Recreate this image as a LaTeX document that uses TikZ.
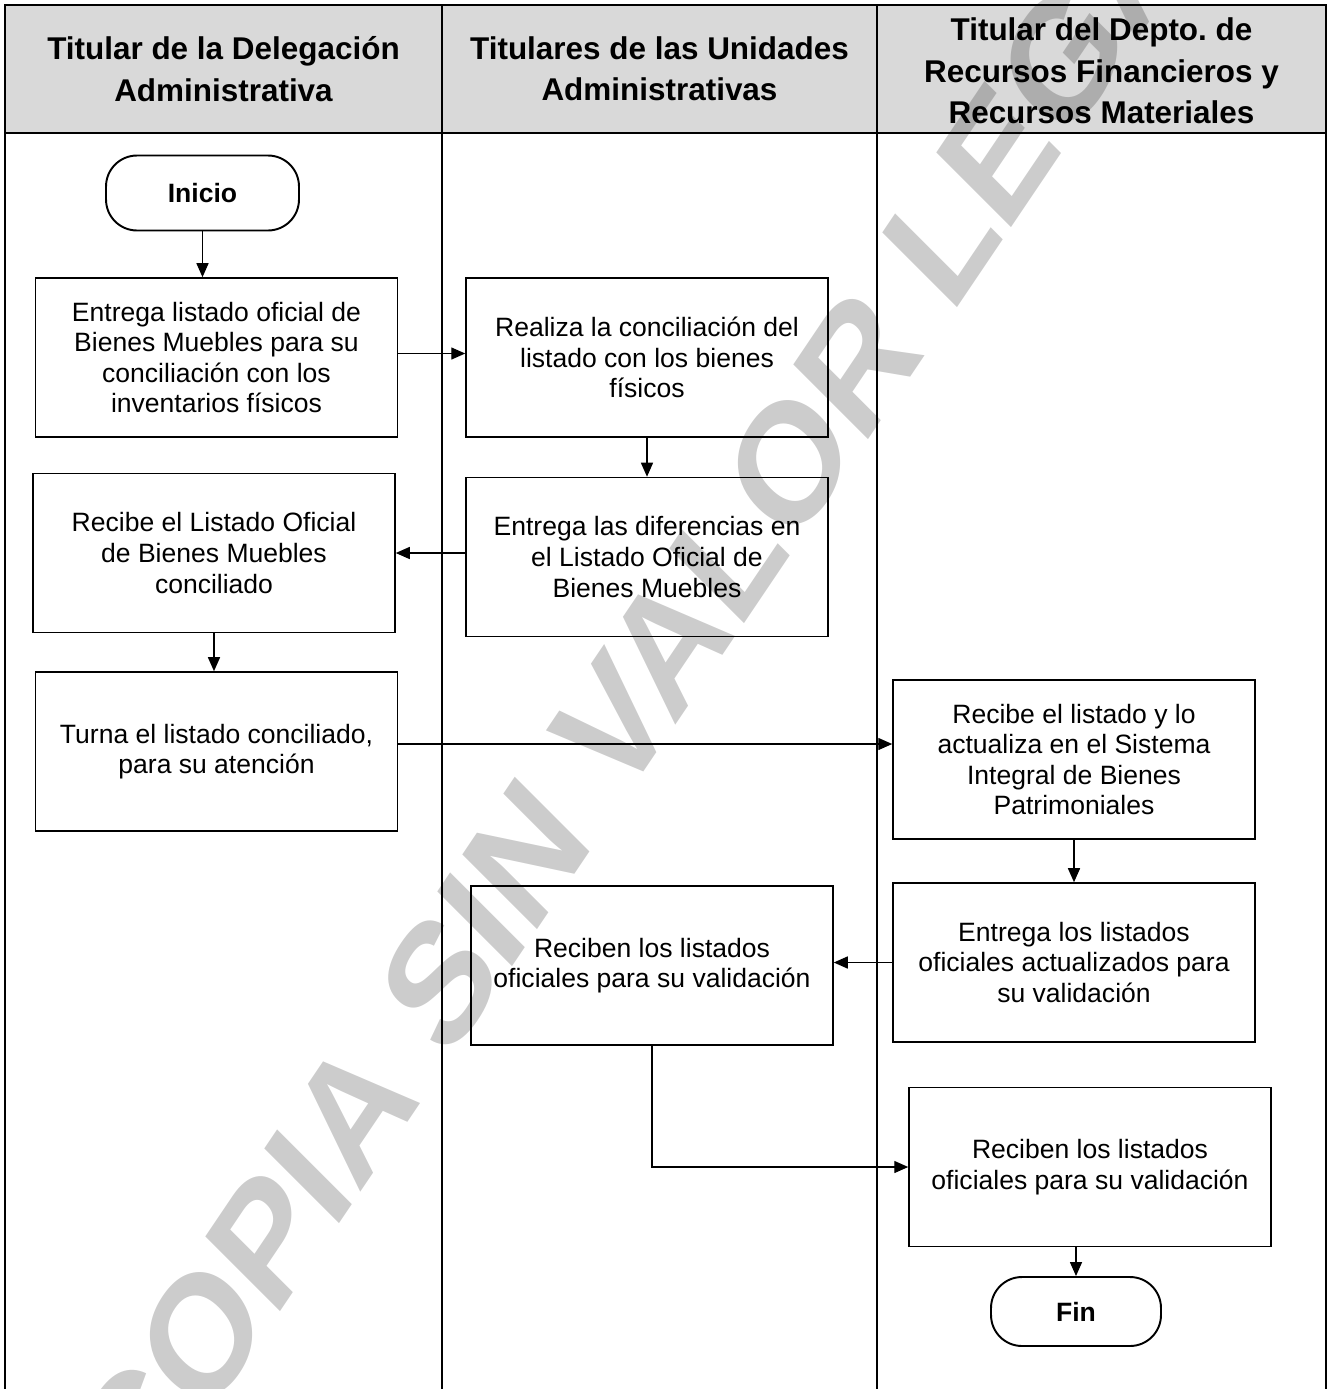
\documentclass[tikz,border=0pt]{standalone}
\usepackage{fontspec}
\setmainfont{Liberation Sans}
\usepackage{xcolor}
\usepackage{tikz}
\usetikzlibrary{arrows.meta}

\definecolor{headgray}{HTML}{D9D9D9}

\begin{document}
\begin{tikzpicture}[x=0.02cm, y=-0.02cm,
        box/.style={draw=black, line width=0.9pt, minimum width=7.24cm, minimum height=3.18cm, inner sep=0pt, align=center, font=\fontsize{15.1pt}{17.4pt}\selectfont},
        term/.style={draw=black, line width=1.1pt, rounded corners=0.62cm, minimum width=3.86cm, minimum height=1.5cm, inner sep=0pt, font=\fontsize{15.1pt}{17.4pt}\selectfont\bfseries},
        head/.style={align=center, inner sep=0pt, font=\fontsize{17.9pt}{23.6pt}\selectfont\bfseries},
        lane/.style={line width=1.3pt},
        arrow/.style={-{Triangle[length=0.28cm, width=0.24cm]}, line width=0.8pt},
        wmark/.style={anchor=base, rotate=50.6, inner sep=0pt, text=black, text opacity=0.2, font=\fontsize{80pt}{80pt}\selectfont\bfseries}
      ]
        \useasboundingbox (0,0) rectangle (1331,1389);

        % lanes and header
        \fill[headgray] (5,5) rectangle (1326,133);
        \draw[lane] (5,1389) -- (5,5) -- (1326,5) -- (1326,1389);
        \draw[lane] (5,133) -- (1326,133);
        \draw[lane] (442,5) -- (442,1389);
        \draw[lane] (877,5) -- (877,1389);
        \node[head] (deleg) at (223.5,69) {Titular de la Delegación\\Administrativa};
        \node[head] (unid) at (659.5,69) {Titulares de las Unidades\\Administrativas};
        \node[head] (finan) at (1101.5,71) {Titular del Depto.\ de\\Recursos Financieros y\\Recursos Materiales};

        % steps
        \node[term] (inicio) at (202.5,193) {Inicio};
        \node[box] (entrega) at (216.5,357.5) {Entrega listado oficial de\\Bienes Muebles para su\\conciliación con los\\inventarios físicos};
        \node[box] (concilia) at (647,357.5) {Realiza la conciliación del\\listado con los bienes\\físicos};
        \node[box] (difer) at (647,557) {Entrega las diferencias en\\el Listado Oficial de\\Bienes Muebles};
        \node[box] (recibe) at (214,553) {Recibe el Listado Oficial\\de Bienes Muebles\\conciliado};
        \node[box] (turna) at (216.5,751.5) {Turna el listado conciliado,\\para su atención};
        \node[box] (actual) at (1074,759.5) {Recibe el listado y lo\\actualiza en el Sistema\\Integral de Bienes\\Patrimoniales};
        \node[box] (entlist) at (1074,962.5) {Entrega los listados\\oficiales actualizados para\\su validación};
        \node[box] (validua) at (652,965.5) {Reciben los listados\\oficiales para su validación};
        \node[box] (validrf) at (1090,1167) {Reciben los listados\\oficiales para su validación};
        \node[term, minimum width=3.4cm, minimum height=1.38cm] (fin) at (1076,1311.5) {Fin};

        % connectors
        \draw[arrow] (inicio) -- (inicio |- entrega.north);
        \draw[arrow] ([yshift=0.08cm]entrega.east) -- ([yshift=0.08cm]entrega.east -| concilia.west);
        \draw[arrow] (concilia) -- (difer);
        \draw[arrow] (difer.west |- recibe.east) -- (recibe.east);
        \draw[arrow] (recibe.south) -- (recibe.south |- turna.north);
        \draw[arrow] ([yshift=0.15cm]turna.east) -- ([yshift=0.15cm]turna.east -| actual.west);
        \draw[arrow] (actual) -- (entlist);
        \draw[arrow] (entlist.west) -- (entlist.west -| validua.east);
        \draw[arrow] (validua.south) |- (validrf.west);
        \draw[arrow] (fin.north |- validrf.south) -- (fin.north);

        % watermark
        \begin{scope}[shift={(697,694)}, yscale=1.2176, transform shape]
          \node[wmark] (sello) at (0,0) {COPIA SIN VALOR LEGAL};
        \end{scope}
      \end{tikzpicture}
\end{document}
